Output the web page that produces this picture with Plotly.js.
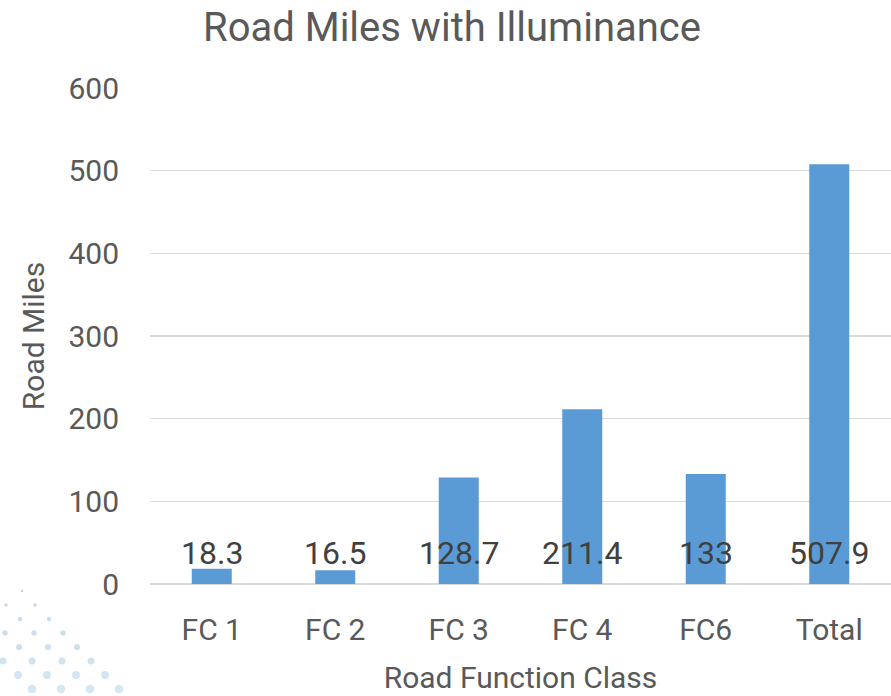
<!DOCTYPE html>
<html>
<head>
<meta charset="utf-8">
<script src="https://cdn.plot.ly/plotly-3.0.1.min.js"></script>
<style>html,body{margin:0;padding:0;background:#fff;}#chart{width:891px;height:696px;}</style>
</head>
<body>
<div id="chart"></div>
<script>
const categories = ["FC 1", "FC 2", "FC 3", "FC 4", "FC6", "Total"];
const roadMiles = [18.3, 16.5, 128.7, 211.4, 133, 507.9];
const valueLabels = ["18.3", "16.5", "128.7", "211.4", "133", "507.9"];
const yTickValues = [0, 100, 200, 300, 400, 500, 600];

const FONT = "Roboto, 'Liberation Sans Narrow', 'DejaVu Sans Condensed', sans-serif";

// decorative dot pattern at bottom-left (pixel positions of the page)
const decorRows = [
  {y: 591, xs: [22], r: 1.3, c: "rgba(185,198,210,0.8)"},
  {y: 605, xs: [6, 35], r: 1.8, c: "rgba(190,212,228,0.85)"},
  {y: 619, xs: [20, 49], r: 2.2, c: "rgba(190,214,230,0.85)"},
  {y: 633, xs: [5, 34, 63], r: 2.7, c: "rgba(195,218,233,0.85)"},
  {y: 647, xs: [19, 48, 77], r: 3.1, c: "rgba(198,220,235,0.85)"},
  {y: 661, xs: [3, 32, 62, 91], r: 3.5, c: "rgba(200,222,236,0.85)"},
  {y: 675, xs: [18, 47, 76, 105], r: 3.9, c: "rgba(203,225,238,0.85)"},
  {y: 689, xs: [32, 61, 90, 119], r: 4.3, c: "rgba(206,227,240,0.85)"}
];
const L = 150, R = 891, T = 88, B = 584;
const pw = R - L, ph = B - T;
const shapes = [];
decorRows.forEach(row => {
  row.xs.forEach(x => {
    shapes.push({
      type: "circle", xref: "paper", yref: "paper", layer: "below",
      x0: (x - row.r - L) / pw, x1: (x + row.r - L) / pw,
      y0: (B - (row.y + row.r)) / ph, y1: (B - (row.y - row.r)) / ph,
      fillcolor: row.c, line: {width: 0}
    });
  });
});

const annotations = categories.map((c, i) => ({
  x: c, y: 0, xref: "x", yref: "y",
  text: valueLabels[i], showarrow: false,
  yanchor: "middle", yshift: 31,
  font: {family: FONT, size: 32, color: "#404040"}
}));

const data = [{
  type: "bar",
  x: categories,
  y: roadMiles,
  marker: {color: "#5b9bd5"},
  hoverinfo: "x+y"
}];

const layout = {
  width: 891, height: 696,
  margin: {l: L, r: 0, t: T, b: 696 - B, pad: 0},
  paper_bgcolor: "#ffffff", plot_bgcolor: "#ffffff",
  showlegend: false,
  bargap: 0.676,
  font: {family: FONT, color: "#595959"},
  title: {
    text: "Road Miles with Illuminance",
    font: {family: FONT, size: 40, color: "#595959"},
    x: 452 / 891, xanchor: "center", xref: "container",
    y: 1 - 27 / 696, yanchor: "middle", yref: "container"
  },
  xaxis: {
    type: "category",
    tickfont: {family: FONT, size: 30, color: "#595959"},
    ticks: "", showgrid: false, showline: false, zeroline: false,
    ticklabelstandoff: 25,
    title: {text: "Road Function Class", font: {family: FONT, size: 30, color: "#595959"}, standoff: 20},
    automargin: false
  },
  yaxis: {
    range: [0, 600],
    tickvals: yTickValues,
    ticktext: yTickValues.map(String),
    tickfont: {family: FONT, size: 30, color: "#595959"},
    ticks: "", showline: false,
    gridcolor: "#d9d9d9", gridwidth: 1.5,
    zeroline: true, zerolinecolor: "#d9d9d9", zerolinewidth: 1.5,
    ticklabelstandoff: 30,
    title: {text: "Road Miles", font: {family: FONT, size: 30, color: "#595959"}, standoff: 14},
    automargin: false
  },
  shapes: shapes,
  annotations: annotations
};

Plotly.newPlot("chart", data, layout, {displayModeBar: false, staticPlot: true});
</script>
</body>
</html>
